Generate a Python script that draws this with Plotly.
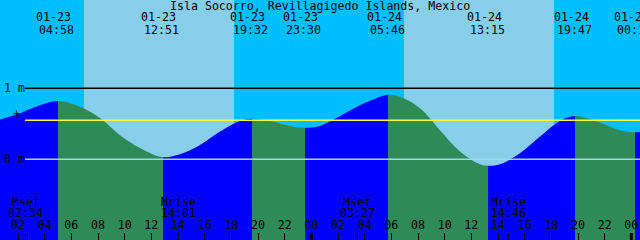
import pandas as pd
import plotly.graph_objects as go

# ---------------- data ----------------
title_text = "Isla Socorro, Revillagigedo Islands, Mexico"
view_start = "2025-01-23 00:39"
view_end = "2025-01-25 00:39"

curve_times = [
    "2025-01-23 00:39", "2025-01-23 02:09", "2025-01-23 03:39", "2025-01-23 04:58",
    "2025-01-23 06:39", "2025-01-23 08:09", "2025-01-23 09:39", "2025-01-23 11:09",
    "2025-01-23 12:51", "2025-01-23 14:09", "2025-01-23 15:39", "2025-01-23 17:09",
    "2025-01-23 18:39", "2025-01-23 19:32", "2025-01-23 20:54", "2025-01-23 22:24",
    "2025-01-23 23:30", "2025-01-24 00:39", "2025-01-24 02:09", "2025-01-24 03:39",
    "2025-01-24 05:09", "2025-01-24 05:46", "2025-01-24 06:39", "2025-01-24 08:09",
    "2025-01-24 09:39", "2025-01-24 11:09", "2025-01-24 12:39", "2025-01-24 13:15",
    "2025-01-24 14:09", "2025-01-24 15:39", "2025-01-24 17:09", "2025-01-24 18:39",
    "2025-01-24 19:47", "2025-01-24 21:39", "2025-01-24 23:09", "2025-01-25 00:18",
    "2025-01-25 00:39",
]
curve_heights = [
    0.56, 0.65, 0.76, 0.82,
    0.74, 0.58, 0.34, 0.16,
    0.03, 0.07, 0.20, 0.39,
    0.54, 0.57, 0.54, 0.47,
    0.445, 0.47, 0.61, 0.76,
    0.88, 0.91, 0.88, 0.72,
    0.41, 0.11, -0.07, -0.09,
    -0.07, 0.085, 0.32, 0.54,
    0.61, 0.52, 0.41, 0.38,
    0.385,
]

extreme_times = [
    "2025-01-23 04:58", "2025-01-23 12:51", "2025-01-23 19:32", "2025-01-23 23:30",
    "2025-01-24 05:46", "2025-01-24 13:15", "2025-01-24 19:47", "2025-01-25 00:18",
]
extreme_dates = ["01-23", "01-23", "01-23", "01-23", "01-24", "01-24", "01-24", "01-25"]
extreme_labels = ["04:58", "12:51", "19:32", "23:30", "05:46", "13:15", "19:47", "00:18"]

sunrise_times = ["2025-01-23 06:57", "2025-01-24 06:57"]
sunset_times = ["2025-01-23 18:12", "2025-01-24 18:12"]

moon_times = ["2025-01-23 02:34", "2025-01-23 14:01", "2025-01-24 03:27", "2025-01-24 14:46"]
moon_names = ["Mset", "Mrise", "Mset", "Mrise"]
moon_labels = ["02:34", "14:01", "03:27", "14:46"]

midnights = ["2025-01-24 00:00", "2025-01-25 00:00"]

level_values = [1, 0]
level_labels = ["1 m", "0 m"]
mean_level = 0.551
plus_level = 0.645
y_range = [-1.137, 2.244]

# ---------------- styles ----------------
FONT = "DejaVu Sans Mono"
FS = 11.6
NIGHT = "#00BFFF"
DAY = "#87CEEB"
FLOOD = "#0000FF"
EBB = "#2E8B57"

fig = go.Figure()

# baseline for fill
fig.add_trace(go.Scatter(
    x=[curve_times[0], curve_times[-1]], y=[-2, -2], mode="lines",
    line=dict(width=0), hoverinfo="skip", showlegend=False))

# colour stops: rising = flood (blue), falling = ebb (green)
t_first = pd.Timestamp(curve_times[0])
t_last = pd.Timestamp(curve_times[-1])
span = (t_last - t_first).total_seconds()
stops = []
color = FLOOD
stops.append([0.0, color])
for t in extreme_times:
    p = (pd.Timestamp(t) - t_first).total_seconds() / span
    stops.append([p, color])
    color = EBB if color == FLOOD else FLOOD
    stops.append([p, color])
stops.append([1.0, color])

fig.add_trace(go.Scatter(
    x=curve_times, y=curve_heights, mode="lines",
    line=dict(width=0, shape="spline", smoothing=1.0),
    fill="tonexty",
    fillgradient=dict(type="horizontal", colorscale=stops),
    hoverinfo="skip", showlegend=False))

shapes = []
# night/day background
shapes.append(dict(type="rect", xref="paper", yref="paper", x0=0, x1=1, y0=0, y1=1,
                   fillcolor=NIGHT, line=dict(width=0), layer="below"))
for sr, ss in zip(sunrise_times, sunset_times):
    shapes.append(dict(type="rect", xref="x", yref="paper", x0=sr, x1=ss, y0=0, y1=1,
                       fillcolor=DAY, line=dict(width=0), layer="below"))

# reference lines
x_line0 = 25 / 640
shapes.append(dict(type="line", xref="paper", yref="y", x0=x_line0, x1=1, y0=1, y1=1,
                   line=dict(color="black", width=1.5), layer="above"))
shapes.append(dict(type="line", xref="paper", yref="y", x0=x_line0, x1=1,
                   y0=mean_level, y1=mean_level,
                   line=dict(color="#FFFF33", width=1.5), layer="above"))
shapes.append(dict(type="line", xref="paper", yref="y", x0=x_line0, x1=1, y0=0, y1=0,
                   line=dict(color="#9FD6EC", width=1.5), layer="above"))

# moon event ticks and midnight ticks
for t in moon_times:
    shapes.append(dict(type="line", xref="x", yref="paper", x0=t, x1=t,
                       y0=0, y1=7 / 240, line=dict(color="black", width=1), layer="above"))
for t in midnights:
    shapes.append(dict(type="line", xref="x", yref="paper", x0=t, x1=t,
                       y0=0, y1=7 / 240, line=dict(color="black", width=3), layer="above"))

txt_font = dict(family=FONT, size=FS, color="black")
annotations = []
for t, d, lab in zip(extreme_times, extreme_dates, extreme_labels):
    annotations.append(dict(x=t, xref="x", y=1 - 17.5 / 240, yref="paper", text=d,
                            showarrow=False, xanchor="center", yanchor="middle", xshift=-4,
                            font=txt_font))
    annotations.append(dict(x=t, xref="x", y=1 - 29.5 / 240, yref="paper", text=lab,
                            showarrow=False, xanchor="center", yanchor="middle", xshift=-1,
                            font=txt_font))
for t, n, lab in zip(moon_times, moon_names, moon_labels):
    annotations.append(dict(x=t, xref="x", y=1 - 201.5 / 240, yref="paper", text=n,
                            showarrow=False, xanchor="center", yanchor="middle",
                            font=txt_font))
    annotations.append(dict(x=t, xref="x", y=1 - 213 / 240, yref="paper", text=lab,
                            showarrow=False, xanchor="center", yanchor="middle",
                            font=txt_font))
for v, lab in zip(level_values, level_labels):
    annotations.append(dict(x=1.5 / 640, xref="paper", y=v, yref="y", text=lab,
                            showarrow=False, xanchor="left", yanchor="middle",
                            font=txt_font))
annotations.append(dict(x=16.5 / 640, xref="paper", y=plus_level, yref="y", text="+",
                        showarrow=False, xanchor="center", yanchor="middle",
                        font=txt_font))
annotations.append(dict(x=0.5, xref="paper", y=1 - 6 / 240, yref="paper", text=title_text,
                        showarrow=False, xanchor="center", yanchor="middle",
                        font=txt_font))

fig.update_layout(
    width=640, height=240,
    margin=dict(l=0, r=0, t=0, b=0, pad=0),
    paper_bgcolor=NIGHT, plot_bgcolor=NIGHT,
    showlegend=False,
    shapes=shapes, annotations=annotations,
    xaxis=dict(type="date", range=[view_start, view_end], showgrid=False, zeroline=False,
               showline=False, ticks="inside", ticklen=7, tickwidth=1, tickcolor="black",
               tickformat="%H", dtick=7200000, tick0="2025-01-23 00:00",
               ticklabelposition="inside", ticklabelstandoff=1,
               tickfont=txt_font, fixedrange=True),
    yaxis=dict(range=y_range, showgrid=False, zeroline=False, showline=False,
               showticklabels=False, ticks="", fixedrange=True),
)

fig.write_html("out.html")
